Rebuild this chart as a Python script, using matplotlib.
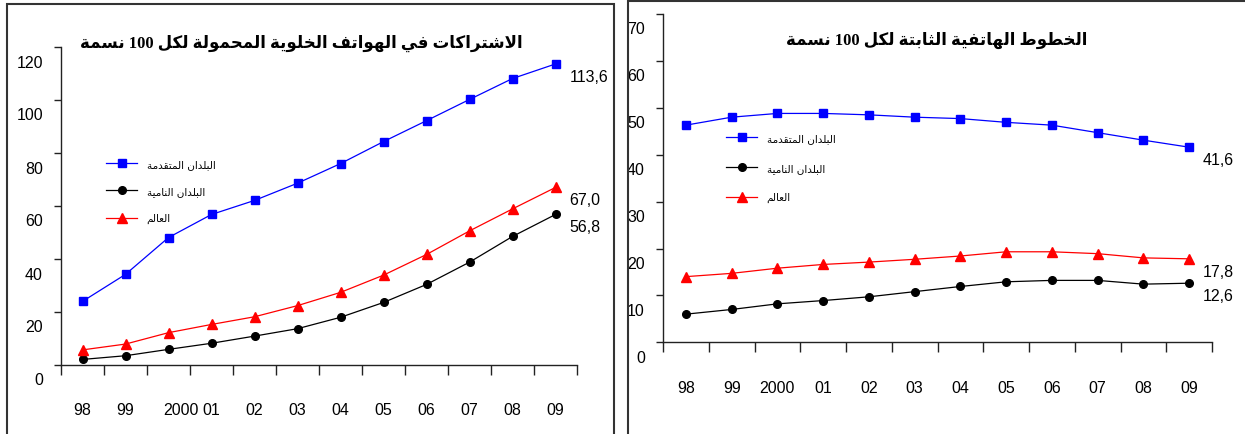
import re
import numpy as np
import matplotlib
matplotlib.use("Agg")
import matplotlib.pyplot as plt
from matplotlib.patches import Rectangle
from matplotlib.transforms import ScaledTranslation

# ---------------------------------------------------------------- data
years = ["98", "99", "2000", "01", "02", "03", "04", "05", "06", "07", "08", "09"]

mobile_developed = [24.0, 34.2, 48.1, 56.8, 62.1, 68.6, 76.0, 84.3, 92.2, 100.2, 108.1, 113.6]
mobile_developing = [2.1, 3.5, 5.9, 8.2, 10.9, 13.7, 18.0, 23.6, 30.4, 38.8, 48.5, 56.8]
mobile_world = [5.7, 7.9, 12.2, 15.3, 18.2, 22.4, 27.4, 33.9, 41.7, 50.6, 58.9, 67.0]

fixed_developed = [46.3, 48.0, 48.8, 48.8, 48.5, 48.0, 47.7, 46.9, 46.3, 44.7, 43.1, 41.6]
fixed_developing = [6.0, 7.0, 8.2, 8.9, 9.7, 10.8, 11.9, 12.9, 13.2, 13.2, 12.4, 12.6]
fixed_world = [14.0, 14.7, 15.8, 16.6, 17.1, 17.7, 18.4, 19.3, 19.3, 18.9, 18.0, 17.8]

series_names = ["البلدان المتقدمة", "البلدان النامية", "العالم"]
mobile_title = "الاشتراكات في الهواتف الخلوية المحمولة لكل 100 نسمة"
fixed_title = "الخطوط الهاتفية الثابتة لكل 100 نسمة"

# ------------------------------------------------- Arabic text shaping
# matplotlib lays glyphs out left to right without contextual forms, so the
# strings are converted to presentation forms and put in visual order.
_DUAL = {'ب': 0xFE8F, 'ت': 0xFE95, 'ث': 0xFE99, 'ح': 0xFEA1, 'خ': 0xFEA5,
         'س': 0xFEB1, 'ش': 0xFEB5, 'ط': 0xFEC1, 'ع': 0xFEC9, 'ف': 0xFED1,
         'ق': 0xFED5, 'ك': 0xFED9, 'ل': 0xFEDD, 'م': 0xFEE1, 'ن': 0xFEE5,
         'ه': 0xFEE9, 'ي': 0xFEF1}
_RIGHT = {'ا': 0xFE8D, 'ة': 0xFE93, 'د': 0xFEA9, 'ر': 0xFEAD, 'و': 0xFEED}


def ar(text):
    chars = list(text)
    n = len(chars)
    out = []
    i = 0
    while i < n:
        c = chars[i]
        prev = chars[i - 1] if i > 0 else ''
        if c == 'ل' and i + 1 < n and chars[i + 1] == 'ا':
            out.append(chr(0xFEFC) if prev in _DUAL else chr(0xFEFB))
            i += 2
            continue
        if c in _DUAL or c in _RIGHT:
            base = _DUAL.get(c, _RIGHT.get(c))
            nxt = chars[i + 1] if i + 1 < n else ''
            link_prev = prev in _DUAL
            link_next = c in _DUAL and (nxt in _DUAL or nxt in _RIGHT)
            if link_prev and link_next:
                form = 3
            elif link_next:
                form = 2
            elif link_prev:
                form = 1
            else:
                form = 0
            out.append(chr(base + form))
        else:
            out.append(c)
        i += 1
    vis = ''.join(reversed(out))
    return re.sub(r'[0-9]+', lambda m: m.group(0)[::-1], vis)


# -------------------------------------------------------------- figure
W, H = 1245, 435
fig = plt.figure(figsize=(W / 100, H / 100), dpi=100)
plt.rcParams['font.family'] = ['Liberation Sans', 'DejaVu Sans']


def fx(px):
    return px / W


def fy(py):
    return 1 - py / H


BLUE, RED, BLACK = '#0000FF', '#FF0000', '#000000'
TICK_FONT = 11.5


def panel(ax, developed, developing, world, ymax, ystep, legend_anchor,
          legend_spacing, shift_2000=0):
    x = np.arange(len(years))
    ax.plot(x, developed, color=BLUE, lw=0.9, marker='s', ms=5.5,
            label=ar(series_names[0]))
    ax.plot(x, developing, color=BLACK, lw=0.9, marker='o', ms=5.5,
            label=ar(series_names[1]))
    ax.plot(x, world, color=RED, lw=0.9, marker='^', ms=6.5,
            label=ar(series_names[2]))

    ax.set_xlim(-0.5, len(years) - 0.5)
    ax.set_ylim(0, ymax)
    for side in ('top', 'right'):
        ax.spines[side].set_visible(False)
    for side in ('left', 'bottom'):
        ax.spines[side].set_color('#222222')
        ax.spines[side].set_linewidth(1.0)

    ax.set_yticks(np.arange(0, ymax + 1, ystep))
    ax.tick_params(axis='y', length=5, width=1.0, color='#222222',
                   direction='out', pad=8, labelsize=TICK_FONT)
    ax.set_xticks(x)
    ax.set_xticklabels(years)
    ax.set_xticks(np.arange(-0.5, len(years), 1.0), minor=True)
    ax.tick_params(axis='x', which='major', length=0, pad=27, labelsize=TICK_FONT)
    ax.tick_params(axis='x', which='minor', length=7, width=1.0,
                   color='#222222', direction='out')

    down = ScaledTranslation(0, -0.135, fig.dpi_scale_trans)
    for lab in ax.get_yticklabels():
        lab.set_transform(lab.get_transform() + down)
    if shift_2000:
        lab = ax.get_xticklabels()[2]
        lab.set_transform(lab.get_transform()
                          + ScaledTranslation(shift_2000 / 100, 0, fig.dpi_scale_trans))

    for series in (developed, world, developing):
        v = series[-1]
        ax.annotate(f"{v:.1f}".replace('.', ','), (x[-1], v),
                    xytext=(10, -9), textcoords='offset points',
                    ha='left', va='center', fontsize=TICK_FONT)

    ax.legend(loc='upper left', bbox_to_anchor=legend_anchor,
              bbox_transform=fig.transFigure, frameon=False,
              prop={'family': ['DejaVu Sans'], 'size': 7.5},
              handlelength=3.0, handletextpad=0.9, labelspacing=legend_spacing,
              borderpad=0, borderaxespad=0)


ax1 = fig.add_axes([fx(61), fy(366), fx(577 - 61), (366 - 48) / H])
ax2 = fig.add_axes([fx(663), fy(343.3), fx(1212 - 663), (343.3 - 15) / H])

panel(ax1, mobile_developed, mobile_developing, mobile_world, 120, 20,
      (fx(106), fy(160)), 1.64, shift_2000=12)
panel(ax2, fixed_developed, fixed_developing, fixed_world, 70, 10,
      (fx(726), fy(134)), 1.88)

title_font = ['Liberation Serif', 'DejaVu Sans']
fig.text(fx(301), fy(43), ar(mobile_title), ha='center', va='center',
         fontsize=12, fontweight='bold', family=title_font)
fig.text(fx(937), fy(40), ar(fixed_title), ha='center', va='center',
         fontsize=12, fontweight='bold', family=title_font)

# panel frames
fig.add_artist(Rectangle((fx(7), -0.05), fx(614 - 7), fy(5) + 0.05,
                         transform=fig.transFigure, fill=False,
                         ec='#333333', lw=1.5))
fig.add_artist(Rectangle((fx(627.5), -0.05), fx(1300 - 627.5), fy(1.5) + 0.05,
                         transform=fig.transFigure, fill=False,
                         ec='#333333', lw=1.5))

fig.savefig('out.png', dpi=100)
